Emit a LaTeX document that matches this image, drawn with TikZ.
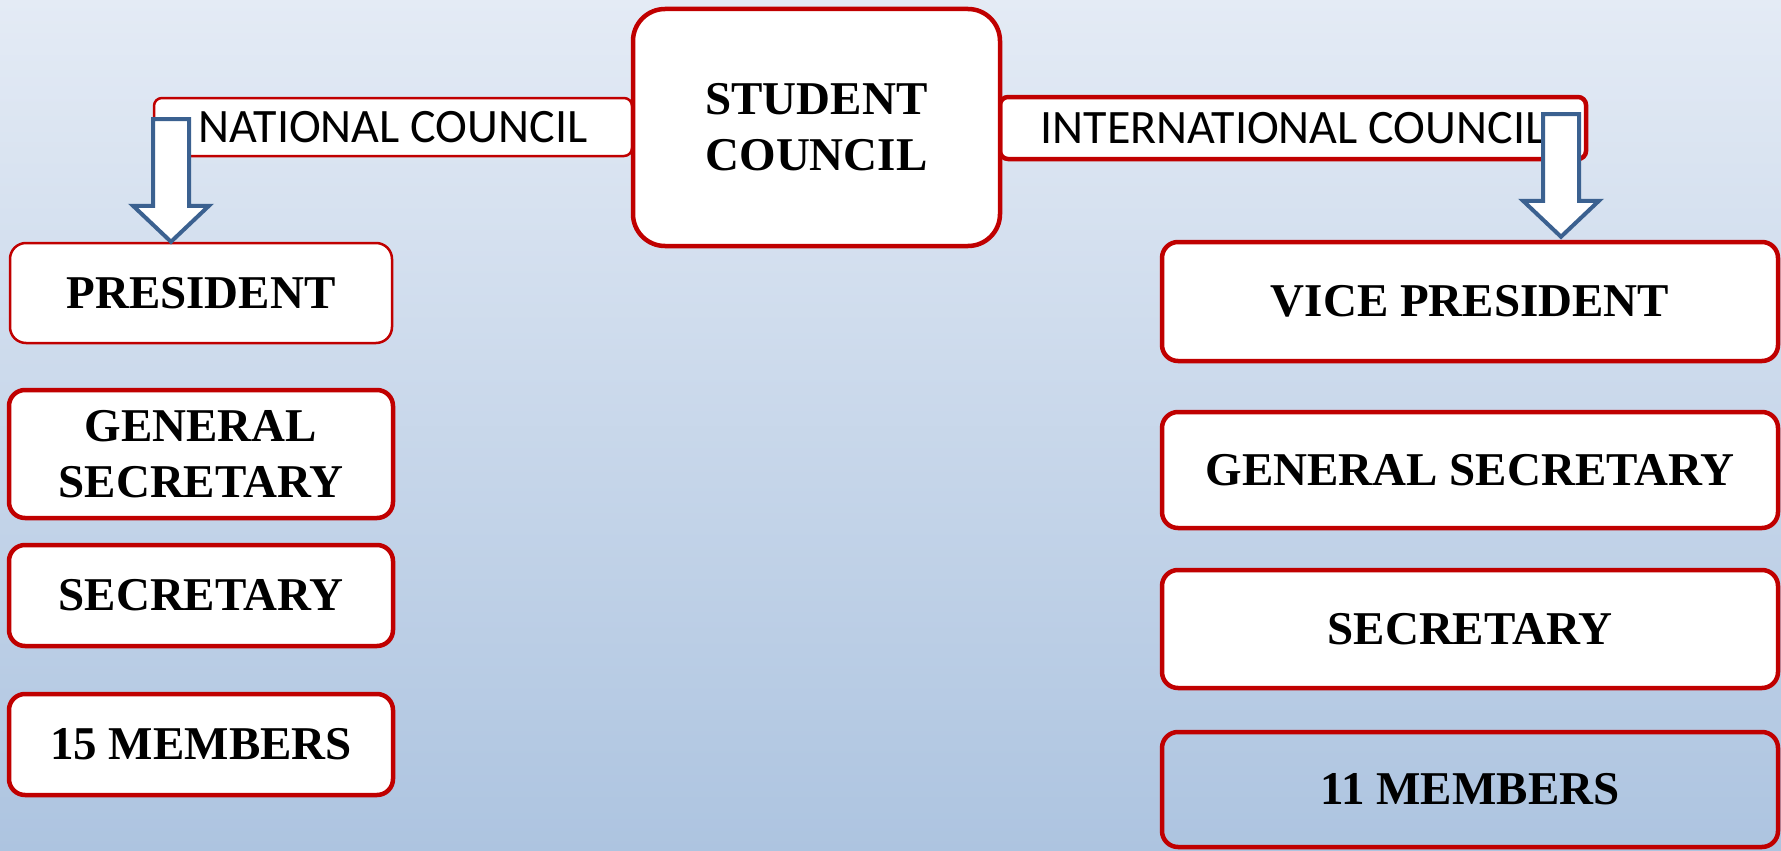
\documentclass[tikz,border=0pt]{standalone}
\usepackage{fontspec}
\setmainfont{Liberation Serif}
\newfontfamily\calibri{Carlito}
\usetikzlibrary{calc}
\definecolor{boxred}{HTML}{C00000}
\definecolor{arrowblue}{HTML}{3B6190}
\definecolor{bgtop}{HTML}{E4EBF5}
\definecolor{bgbottom}{HTML}{ADC4E0}
\tikzset{
  post/.style={draw=boxred, line width=4.5pt, fill=white, rounded corners=16pt, align=center,
    inner sep=0pt, font=\fontsize{47}{56}\selectfont\bfseries},
  thinpost/.style={post, line width=2.5pt},
  council/.style={draw=boxred, line width=2.5pt, fill=white, rounded corners=8pt, inner sep=0pt,
    font=\calibri\fontsize{48}{50}\selectfont},
  arrowline/.style={draw=arrowblue, line width=4pt, fill=white, line join=miter},
}
% block arrow from #1 (top of shaft) down to #2 (tip)
\newcommand{\blockarrow}[2]{%
  \draw[arrowline] ($(#1)+(-18,0)$) -- ($(#1)+(18,0)$) -- ($(#2)+(18,36)$) -- ($(#2)+(38,36)$)
    -- (#2) -- ($(#2)+(-38,36)$) -- ($(#2)+(-18,36)$) -- cycle;}

\begin{document}
\begin{tikzpicture}[x=1pt,y=1pt]
\shade[top color=bgtop, bottom color=bgbottom] (0,0) rectangle (1781,-851);
\useasboundingbox (0,0) rectangle (1781,-851);

\node[council, minimum width=478pt, minimum height=58pt] (natl) at (393,-127) {NATIONAL COUNCIL};
\node[council, line width=4.5pt, minimum width=586pt, minimum height=62pt] (intl) at (1293,-128) {INTERNATIONAL COUNCIL};
\node[post, rounded corners=32pt, minimum width=367pt, minimum height=237pt] (stud) at (816.5,-127.5) {STUDENT\\COUNCIL};

% national side
\node[thinpost, minimum width=382pt, minimum height=100pt] (presL) at (201,-293) {PRESIDENT};
\node[post, minimum width=384pt, minimum height=128pt] (gsecL) at (201,-454) {GENERAL\\SECRETARY};
\node[post, minimum width=384pt, minimum height=101pt] (secL) at (201,-595.5) {SECRETARY};
\node[post, minimum width=384pt, minimum height=101pt] (memL) at (201,-744.5) {15 MEMBERS};

% international side
\node[post, minimum width=616pt, minimum height=119pt] (vpR) at (1470,-301.5) {VICE PRESIDENT};
\node[post, minimum width=616pt, minimum height=116pt] (gsecR) at (1470,-470) {GENERAL SECRETARY};
\node[post, minimum width=616pt, minimum height=118pt] (secR) at (1470,-629) {SECRETARY};
\node[post, fill=none, minimum width=616pt, minimum height=115pt] (memR) at (1470,-789.5) {11 MEMBERS};

\coordinate (natTip) at ($(presL.north)+(-30,0)$);
\coordinate (natTop) at ($(natTip |- natl.west)+(0,8)$);
\coordinate (intTip) at ($(vpR.north)+(91,3)$);
\coordinate (intTop) at ($(intTip |- intl.east)+(0,14)$);
\blockarrow{natTop}{natTip}
\blockarrow{intTop}{intTip}
\end{tikzpicture}
\end{document}
